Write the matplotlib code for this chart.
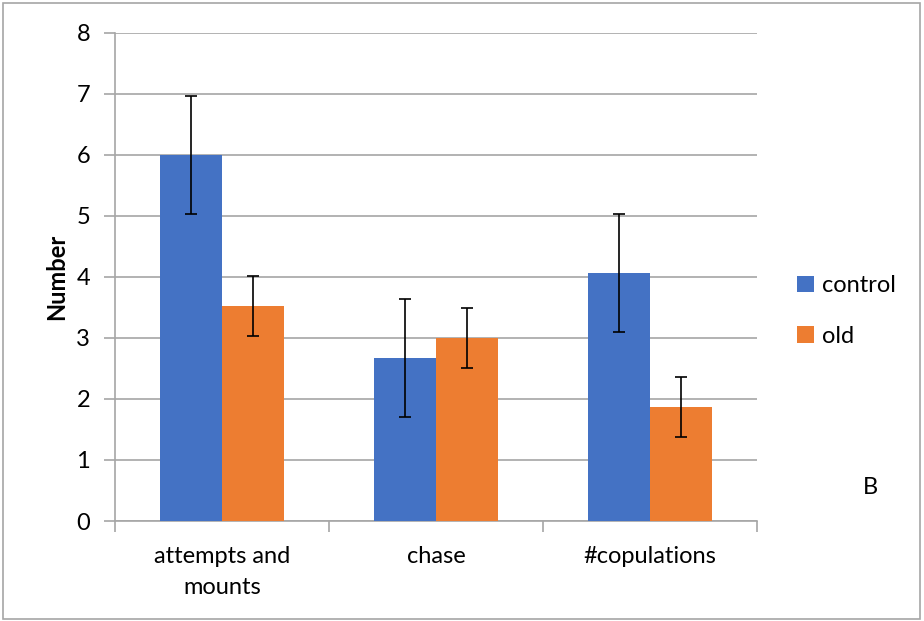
import matplotlib
matplotlib.use("Agg")
import matplotlib.pyplot as plt
import numpy as np
from matplotlib.patches import Rectangle

categories = ["attempts and\nmounts", "chase", "#copulations"]
control = [6.0, 2.67, 4.07]
old = [3.53, 3.0, 1.87]
control_err = [0.97, 0.97, 0.97]
old_err = [0.49, 0.49, 0.49]
series_names = ["control", "old"]
yticks = [0, 1, 2, 3, 4, 5, 6, 7, 8]

plt.rcParams['font.family'] = ['Lato', 'DejaVu Sans']

W, H = 924, 621
fig = plt.figure(figsize=(W / 100, H / 100), dpi=100)
ax = fig.add_axes([115 / W, 1 - 521 / H, (757 - 115) / W, (521 - 33) / H])

FS = 17
x = np.arange(len(categories))
bw = 0.29
blue = "#4472C4"
orange = "#ED7D31"
ek = dict(ecolor="black", elinewidth=1.2, capsize=4.5, capthick=1.2)
ax.bar(x - bw / 2, control, bw, color=blue, yerr=control_err, error_kw=ek,
       label=series_names[0], zorder=3)
ax.bar(x + bw / 2, old, bw, color=orange, yerr=old_err, error_kw=ek,
       label=series_names[1], zorder=3)

ax.set_xlim(-0.5, len(categories) - 0.5)
ax.set_ylim(0, 8)
ax.set_yticks(yticks)
ax.set_yticklabels([str(v) for v in yticks], fontsize=FS)
ax.yaxis.grid(True, color="#A6A6A6", linewidth=1.2, zorder=0)
ax.set_axisbelow(True)

ax.set_xticks(x)
ax.set_xticklabels(categories, fontsize=FS, linespacing=1.6)
ax.tick_params(axis="x", length=0, pad=18)
ax.set_xticks(np.arange(-0.5, len(categories), 1), minor=True)
ax.tick_params(axis="x", which="minor", length=8, color="#A6A6A6", width=1.2)
ax.tick_params(axis="y", length=8, color="#A6A6A6", width=1.2, pad=10)

for s in ["top", "right"]:
    ax.spines[s].set_visible(False)
for s in ["left", "bottom"]:
    ax.spines[s].set_color("#A6A6A6")
    ax.spines[s].set_linewidth(1.2)

ax.set_ylabel("Number", fontsize=FS, fontweight="bold", labelpad=6)

leg = fig.legend(loc="center left", bbox_to_anchor=(776 / W, 1 - 311 / H),
                 frameon=False, fontsize=FS, handlelength=0.7, handleheight=0.7,
                 handletextpad=0.35, labelspacing=1.25)

fig.text(870 / W, 1 - 487 / H, "B", fontsize=FS, ha="center", va="center")

fig.patches.append(Rectangle((3 / W, 2 / H), (W - 7) / W, (H - 5) / H,
                             transform=fig.transFigure, fill=False,
                             edgecolor="#A6A6A6", linewidth=1.2))

fig.savefig("out.png", dpi=100)
